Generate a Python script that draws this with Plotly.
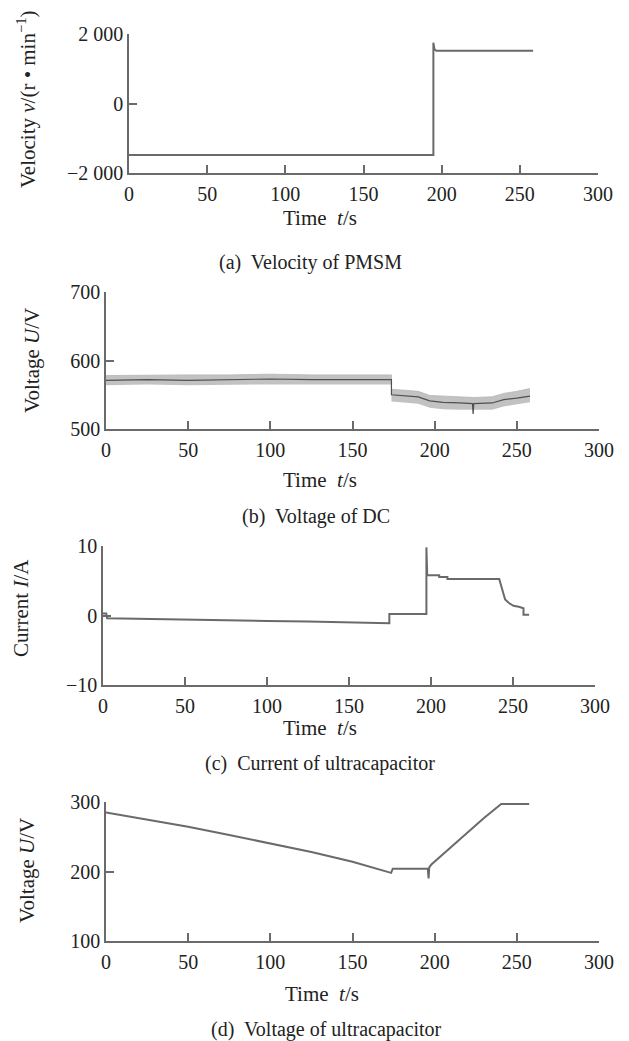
import plotly.graph_objects as go

# ---------------- data ----------------
# (a) velocity of PMSM, r/min
va_t = [0, 194.7, 194.7, 195.4, 196.5, 258.5]
va_v = [-1480, -1480, 1750, 1560, 1520, 1520]

# (b) DC-link voltage, V  (centre line + noise envelope)
vb_t = [0, 25, 50, 75, 100, 125, 150, 173.7, 173.7, 180, 190, 197, 205, 215, 223, 223.4, 223.8, 235, 242, 250, 258]
vb_mid = [571, 572, 571, 572, 573, 572, 572, 572, 550, 549, 547, 541, 539, 538, 537, 522, 537, 538, 543, 545, 548]
vb_hi = [578, 579, 579, 579, 580, 579, 579, 579, 558, 557, 555, 549, 548, 547, 546, 546, 546, 547, 552, 555, 559]
vb_lo = [564, 565, 564, 565, 565, 565, 565, 565, 540, 539, 537, 531, 529, 528, 528, 528, 528, 528, 533, 536, 539]

# (c) ultracapacitor current, A
ic_t = [0, 2, 2.5, 25, 50, 75, 100, 125, 150, 174.6, 174.6, 197.2, 197.2, 197.7, 205, 205, 210, 210,
        241.6, 243.5, 245.2, 247.5, 250.3, 253.5, 256.4, 256.4, 259.8]
ic_v = [0.3, 0.3, -0.4, -0.5, -0.65, -0.75, -0.8, -0.85, -0.95, -1.1, 0.2, 0.2, 9.8, 5.8, 5.8, 5.55, 5.55, 5.25,
        5.25, 3.8, 2.3, 1.8, 1.4, 1.25, 1.05, 0.1, 0.1]

# (d) ultracapacitor voltage, V
ud_t = [0, 25, 50, 75, 100, 125, 150, 173.5, 174.5, 195.8, 196.3, 196.7, 198, 210, 220, 230, 240.5, 257.5]
ud_v = [285, 275, 264.5, 252.5, 240.5, 228, 214, 198, 204, 204, 190, 206, 210, 235, 257, 277, 297, 297]

x_ticks = [0, 50, 100, 150, 200, 250, 300]
ya_ticks = [-2000, 0, 2000]
ya_text = ["\u22122 000", "0", "2 000"]
yb_ticks = [500, 600, 700]
yc_ticks = [-10, 0, 10]
yc_text = ["\u221210", "0", "10"]
yd_ticks = [100, 200, 300]

captions = ["(a)  Velocity of PMSM", "(b)  Voltage of DC",
            "(c)  Current of ultracapacitor", "(d)  Voltage of ultracapacitor"]
y_titles = ["Velocity <i>v</i>/(r \u2022 min<sup>\u22121</sup>)", "Voltage <i>U</i>/V",
            "Current <i>I</i>/A", "Voltage <i>U</i>/V"]
x_title = "Time  <i>t</i>/s"

# ---------------- layout geometry (pixels in the 629x1041 window) ----------------
WIN_W, WIN_H = 629, 1041
OFF = 8                      # default page body margin
W, H = WIN_W - OFF, WIN_H - OFF
FONT = "Liberation Serif"
TXT = "#222222"
boxes = [  # left, right, top, bottom (window pixels)
    (129, 598, 34, 173),
    (106, 599, 292, 429),
    (103, 595, 546, 685),
    (106, 599, 802, 941),
]
ytitle_pos = [(26, 99), (32, 361), (21, 608), (27, 871)]
xtitle_pos = [(320, 218), (320, 480), (320, 728), (322, 994)]
caption_pos = [(310, 262), (316, 516), (320, 763), (327, 1029)]


def fx(px):
    return (px - OFF) / W


def fy(py):
    return 1 - (py - OFF) / H


LINE = "#6a6a6a"
AX = "#6a6a6a"

fig = go.Figure()

fig.add_trace(go.Scatter(x=va_t, y=va_v, mode="lines", line=dict(color=LINE, width=2),
                         xaxis="x", yaxis="y", showlegend=False))

fig.add_trace(go.Scatter(x=vb_t, y=vb_lo, mode="lines", line=dict(color="rgba(0,0,0,0)", width=0),
                         xaxis="x2", yaxis="y2", showlegend=False))
fig.add_trace(go.Scatter(x=vb_t, y=vb_hi, mode="lines", line=dict(color="#b5b5b5", width=0.8),
                         fill="tonexty", fillcolor="#c2c2c2",
                         xaxis="x2", yaxis="y2", showlegend=False))
fig.add_trace(go.Scatter(x=vb_t, y=vb_mid, mode="lines", line=dict(color="#505050", width=1.2),
                         xaxis="x2", yaxis="y2", showlegend=False))

fig.add_trace(go.Scatter(x=ic_t, y=ic_v, mode="lines", line=dict(color=LINE, width=2),
                         xaxis="x3", yaxis="y3", showlegend=False))

fig.add_trace(go.Scatter(x=ud_t, y=ud_v, mode="lines", line=dict(color=LINE, width=2),
                         xaxis="x4", yaxis="y4", showlegend=False))

yranges = [[-2000, 2000], [500, 700], [-10, 10], [100, 300]]
yticks = [(ya_ticks, ya_text), (yb_ticks, [str(v) for v in yb_ticks]),
          (yc_ticks, yc_text), (yd_ticks, [str(v) for v in yd_ticks])]

layout = dict(template="none", width=W, height=H, margin=dict(l=0, r=0, t=0, b=0, pad=0),
              paper_bgcolor="white", plot_bgcolor="white", showlegend=False,
              font=dict(family=FONT, size=20, color=TXT))

annotations = []
for i, (l, r, t, b) in enumerate(boxes):
    sfx = "" if i == 0 else str(i + 1)
    layout["xaxis" + sfx] = dict(
        domain=[fx(l), fx(r)], range=[0, 300], tickvals=x_ticks, ticktext=[str(v) for v in x_ticks],
        anchor="y" + sfx, showline=True, linecolor=AX, linewidth=1.5, automargin=False,
        ticks="inside", ticklen=8, tickwidth=1.5, tickcolor=AX,
        showgrid=False, zeroline=False, ticklabelstandoff=2,
        tickfont=dict(family=FONT, size=20, color=TXT))
    tv, tt = yticks[i]
    layout["yaxis" + sfx] = dict(
        domain=[fy(b), fy(t)], range=yranges[i], tickvals=tv, ticktext=tt,
        anchor="x" + sfx, showline=True, linecolor=AX, linewidth=1.5, automargin=False,
        ticks="inside", ticklen=8, tickwidth=1.5, tickcolor=AX,
        showgrid=False, zeroline=False,
        tickfont=dict(family=FONT, size=20, color=TXT))
    xx, yy = ytitle_pos[i]
    annotations.append(dict(text=y_titles[i], x=fx(xx), y=fy(yy), xref="paper", yref="paper",
                            textangle=-90, showarrow=False, xanchor="center", yanchor="middle",
                            font=dict(family=FONT, size=21, color=TXT)))
    xx, yy = xtitle_pos[i]
    annotations.append(dict(text=x_title, x=fx(xx), y=fy(yy), xref="paper", yref="paper",
                            showarrow=False, xanchor="center", yanchor="middle",
                            font=dict(family=FONT, size=21, color=TXT)))
    xx, yy = caption_pos[i]
    annotations.append(dict(text=captions[i], x=fx(xx), y=fy(yy), xref="paper", yref="paper",
                            showarrow=False, xanchor="center", yanchor="middle",
                            font=dict(family=FONT, size=20, color=TXT)))

layout["annotations"] = annotations
fig.update_layout(**layout)
fig.write_html("out.html")
